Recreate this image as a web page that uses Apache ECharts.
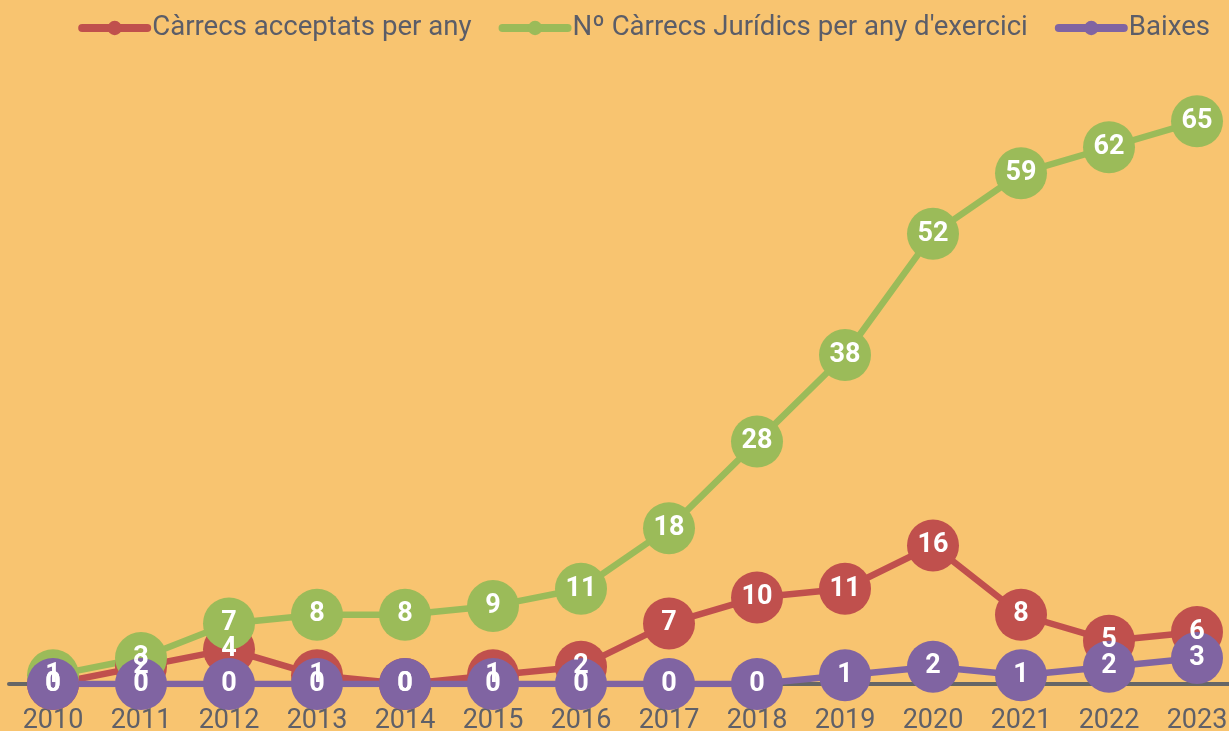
<!DOCTYPE html>
<html>
<head>
<meta charset="utf-8">
<script src="https://cdn.jsdelivr.net/npm/echarts@6/dist/echarts.min.js"></script>
<style>
  html, body { margin: 0; padding: 0; background: #F8C470; }
  #chart { width: 1229px; height: 731px; }
</style>
</head>
<body>
<div id="chart"></div>
<script>
var years = ['2010', '2011', '2012', '2013', '2014', '2015', '2016', '2017', '2018', '2019', '2020', '2021', '2022', '2023'];
var acceptats = [0, 2, 4, 1, 0, 1, 2, 7, 10, 11, 16, 8, 5, 6];
var juridics = [1, 3, 7, 8, 8, 9, 11, 18, 28, 38, 52, 59, 62, 65];
var baixes = [0, 0, 0, 0, 0, 0, 0, 0, 0, 1, 2, 1, 2, 3];

var myChart = echarts.init(document.getElementById('chart'));

function lineSeries(name, data, color) {
    return {
        name: name,
        type: 'line',
        data: data,
        symbol: 'circle',
        symbolSize: 52,
        itemStyle: { color: color },
        lineStyle: { color: color, width: 6.5 },
        label: {
            show: true,
            position: 'inside',
            color: '#fff',
            fontFamily: 'Roboto',
            fontWeight: 'bold',
            fontSize: 27
        },
        emphasis: { disabled: true },
        animation: false
    };
}

var option = {
    backgroundColor: '#F8C470',
    legend: {
        right: 14,
        top: 9,
        itemWidth: 65,
        itemHeight: 18,
        itemGap: 27,
        lineStyle: { width: 8, cap: 'round' },
        textStyle: {
            color: '#5b5d68',
            fontFamily: 'Roboto',
            fontSize: 27.6
        }
    },
    grid: {
        left: 9,
        width: 1232,
        top: 78,
        height: 606,
        outerBoundsMode: 'none',
        containLabel: false
    },
    xAxis: {
        type: 'category',
        data: years,
        boundaryGap: true,
        axisTick: { show: false },
        axisLine: {
            lineStyle: { color: '#666', width: 4 }
        },
        axisLabel: {
            color: '#5f6068',
            fontFamily: 'Roboto',
            fontSize: 27,
            margin: 24
        }
    },
    yAxis: {
        type: 'value',
        min: 0,
        max: 70,
        show: false
    },
    series: [
        lineSeries('Càrrecs acceptats per any', acceptats, '#C0504D'),
        lineSeries('Nº Càrrecs Jurídics per any d\'exercici', juridics, '#9BBB59'),
        lineSeries('Baixes', baixes, '#8064A2')
    ]
};
myChart.setOption(option);
</script>
</body>
</html>
